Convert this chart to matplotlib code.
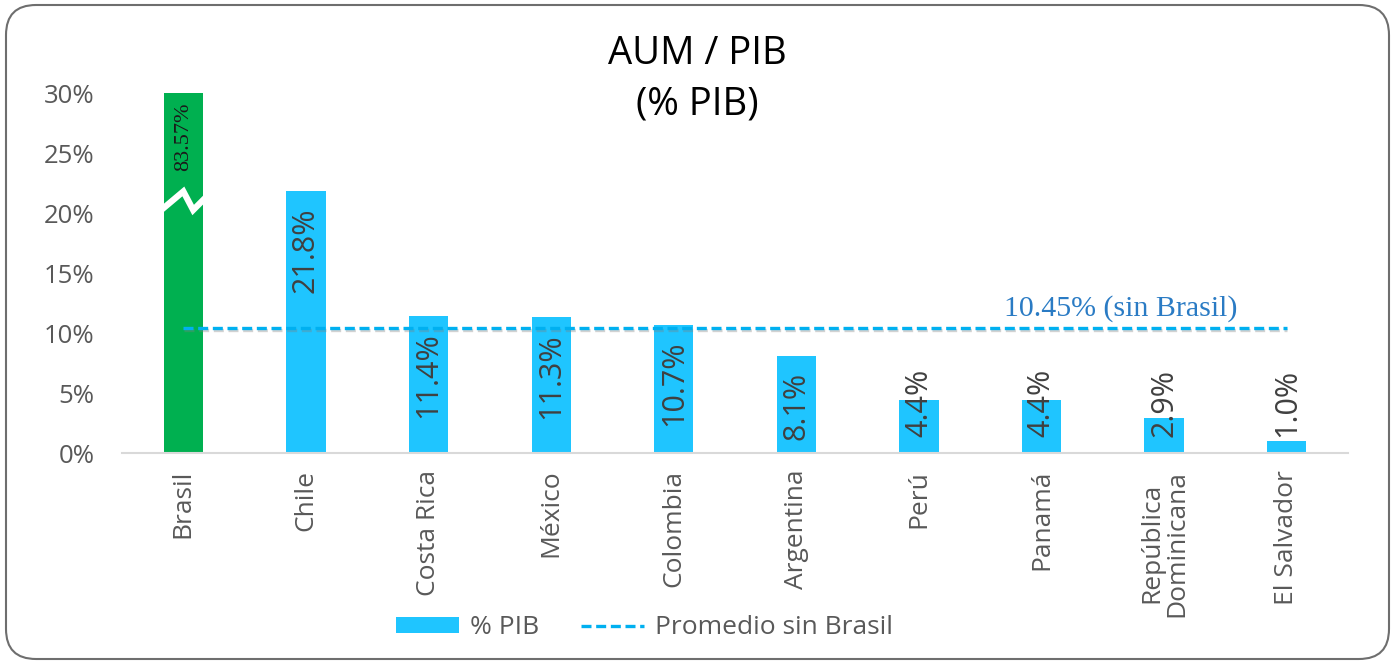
import numpy as np
import matplotlib
matplotlib.use("Agg")
import matplotlib.pyplot as plt
from matplotlib.patches import FancyBboxPatch, Patch
from matplotlib.lines import Line2D
import matplotlib.patheffects as pe

paises = ["Brasil", "Chile", "Costa Rica", "México", "Colombia", "Argentina",
          "Perú", "Panamá", "República\nDominicana", "El Salvador"]
pib = [83.57, 21.8, 11.4, 11.3, 10.7, 8.1, 4.4, 4.4, 2.9, 1.0]
promedio = 10.45
yticks = [0, 5, 10, 15, 20, 25, 30]

azul = "#1FC5FF"
verde = "#00B050"
gris = "#595959"

plt.rcParams['font.family'] = ['Open Sans', 'DejaVu Sans']

fig = plt.figure(figsize=(13.95, 6.63), dpi=100)
ax = fig.add_axes([0.0875, 0.3167, 0.8788, 0.543])

x = np.arange(len(paises))
colores = [verde] + [azul] * (len(paises) - 1)
ax.bar(x, pib, width=0.32, color=colores, zorder=2)

ax.set_xlim(-0.5, len(paises) - 0.5)
ax.set_ylim(0, 30)
ax.set_yticks(yticks)
ax.set_yticklabels(["{}%".format(t) for t in yticks], fontsize=18.5, color=gris)
ax.set_xticks(x)
ax.set_xticklabels(paises, rotation=90, fontsize=19, color=gris, va='top',
                   linespacing=1.0)
ax.tick_params(axis='y', length=0, pad=20)
ax.tick_params(axis='x', length=0, pad=12)
for s in ['top', 'right', 'left']:
    ax.spines[s].set_visible(False)
ax.spines['bottom'].set_color('#D9D9D9')
ax.spines['bottom'].set_linewidth(1.5)

# corte en la barra de Brasil
ax.plot([-0.163, 0.0, 0.08, 0.163], [20.4, 21.8, 20.25, 21.1], color='white',
        lw=4.5, zorder=3, solid_joinstyle='miter')
ax.text(0, 29.2, "83.57%", rotation=90, ha='center', va='top', fontsize=16,
        family='Liberation Serif', color='#1a1a1a', zorder=4)

# etiquetas
for i in range(1, len(pib)):
    v = pib[i]
    lbl = "{:.1f}%".format(v)
    if v >= 7:
        ax.text(x[i], v - 1.3, lbl, rotation=90, ha='center', va='top',
                fontsize=22, color='#404040', zorder=4)
    else:
        ax.text(x[i], 1.3, lbl, rotation=90, ha='center', va='bottom',
                fontsize=22, color='#404040', zorder=4)

# promedio sin Brasil
ax.plot([0, len(paises) - 1], [promedio, promedio], color='#00B0F0', lw=2.4,
        dashes=(3, 1.4), zorder=5,
        path_effects=[pe.SimpleLineShadow(offset=(0.5, -1.5), shadow_color='gray',
                                          alpha=0.35), pe.Normal()])
ax.text(7.65, promedio + 1.6, "10.45% (sin Brasil)", ha='center', va='center',
        fontsize=21.5, family='Liberation Serif', color='#2A7BC4')

# titulo
fig.text(0.5, 0.918, "AUM / PIB", ha='center', va='center', fontsize=27.5, color='black')
fig.text(0.5, 0.842, "(% PIB)", ha='center', va='center', fontsize=27.5, color='black')

handles = [Patch(facecolor=azul, edgecolor='none'),
           Line2D([0], [0], color='#00B0F0', lw=2.4, dashes=(3, 1.4))]
fig.legend(handles, ["% PIB", "Promedio sin Brasil"], loc='center',
           bbox_to_anchor=(0.462, 0.053), ncol=2, frameon=False, fontsize=19,
           labelcolor=gris, handlelength=2.4, handleheight=0.55,
           columnspacing=1.6, handletextpad=0.4)

borde = FancyBboxPatch((0.06, 0.04), 13.95 - 0.12, 6.63 - 0.09,
                       boxstyle="round,pad=0,rounding_size=0.3",
                       transform=fig.dpi_scale_trans, facecolor='none',
                       edgecolor='#6E6E6E', lw=1.5)
fig.add_artist(borde)

plt.savefig("out.png", dpi=100)
